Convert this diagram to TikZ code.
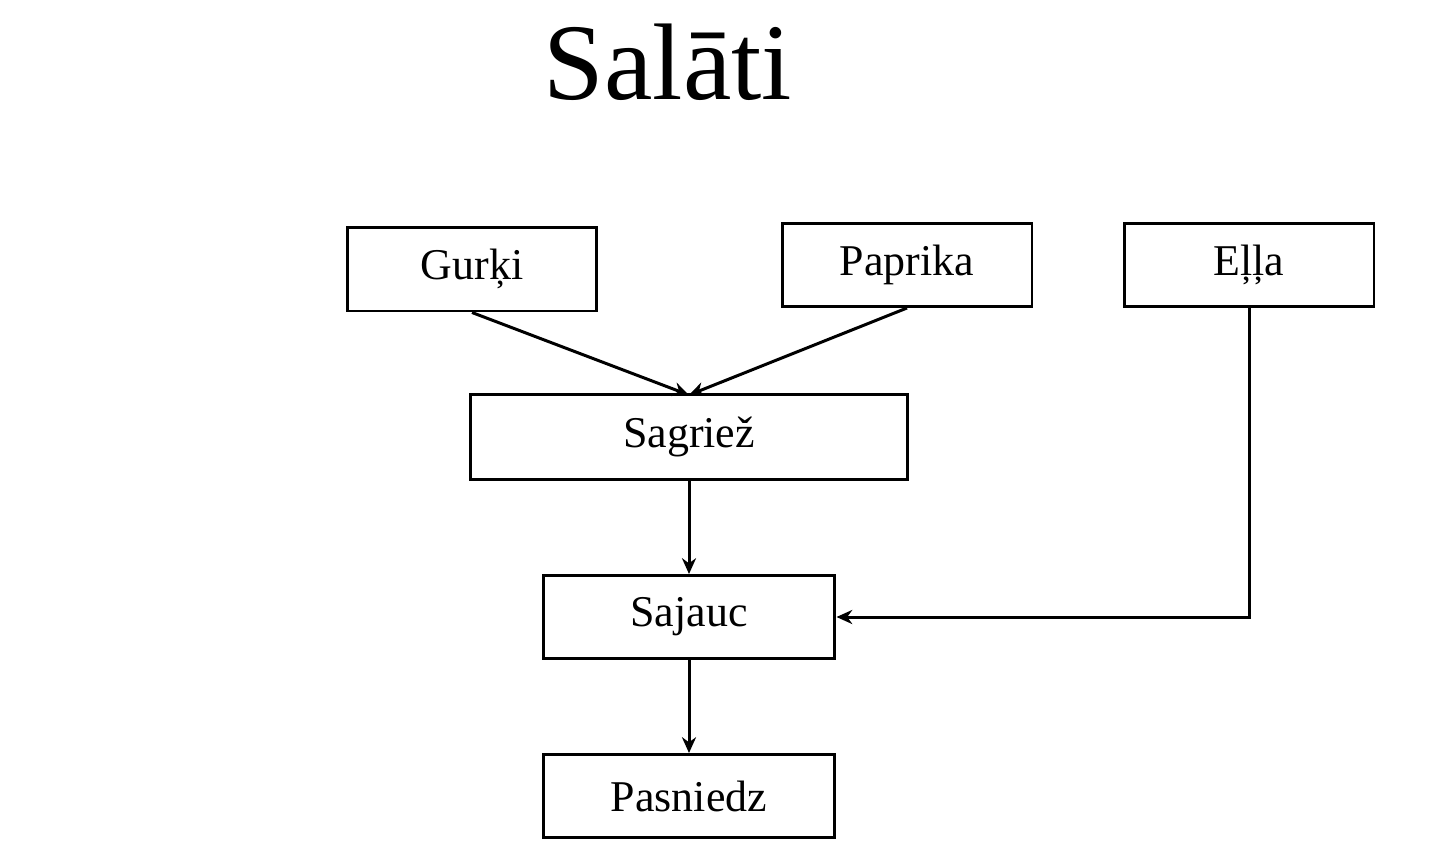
\documentclass[tikz,border=0pt]{standalone}
\usepackage{fontspec}
\setmainfont{Liberation Serif}
\usetikzlibrary{arrows.meta}
\tikzset{
    stepbox/.style={draw, line width=1.7pt, inner sep=0pt, font=\fontsize{25}{30}\selectfont},
    flow/.style={line width=1.7pt, -{Stealth[length=9pt,width=8pt]}}
}
\begin{document}
\begin{tikzpicture}[x=0.02cm, y=-0.02cm]
    \useasboundingbox (0, 0) rectangle (1442, 856);
    \node (title) at(668, 62) {\fontsize{62}{70}\selectfont Salāti};
    \node[stepbox, minimum width=5cm, minimum height=1.68cm] (gurki) at(472, 269) {Gurķi};
    \node[stepbox, minimum width=5cm, minimum height=1.66cm] (paprika) at(907, 265) {Paprika};
    \node[stepbox, minimum width=5cm, minimum height=1.66cm] (ella) at(1249, 265) {Eļļa};
    \node[stepbox, minimum width=8.76cm, minimum height=1.7cm] (sagriez) at(689, 437) {Sagriež};
    \node[stepbox, minimum width=5.84cm, minimum height=1.66cm] (sajauc) at(689, 617) {Sajauc};
    \node[stepbox, minimum width=5.84cm, minimum height=1.66cm] (pasniedz) at(689, 796) {Pasniedz};
    \coordinate (meet) at(689, 395);
    \coordinate (bend) at(1249, 617);
    \draw[flow] (gurki.south) -- (meet);
    \draw[flow] (paprika.south) -- (meet);
    \draw[flow] (sagriez) -- (sajauc);
    \draw[flow] (sajauc) -- (pasniedz);
    \draw[flow] (ella.south) -- (bend) -- (sajauc.east);
\end{tikzpicture}
\end{document}
